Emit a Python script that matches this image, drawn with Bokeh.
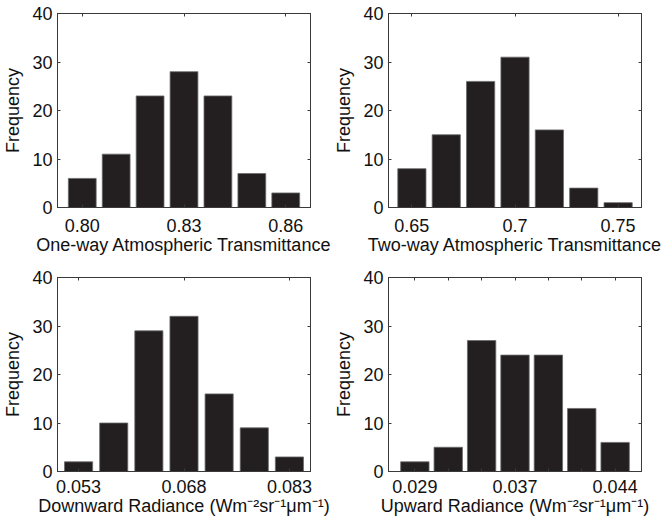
import numpy as np
from bokeh.plotting import figure
from bokeh.models import FixedTicker, LinearAxis, Range1d
from bokeh.layouts import column, row
from bokeh.embed import file_html
from bokeh.resources import INLINE

# Bin counts of the four histograms
one_way_counts = [6, 11, 23, 28, 23, 7, 3]
two_way_counts = [8, 15, 26, 31, 16, 4, 1]
down_counts = [2, 10, 29, 32, 16, 9, 3]
up_counts = [2, 5, 27, 24, 24, 13, 6]

# Labelled tick positions (bin index) and their labels
one_way_ticks = [0, 3, 6]
one_way_labels = ["0.80", "0.83", "0.86"]
two_way_ticks = [0, 3, 6]
two_way_labels = ["0.65", "0.7", "0.75"]
down_ticks = [0, 3, 6]
down_labels = ["0.053", "0.068", "0.083"]
up_ticks = [0, 3, 6]
up_labels = ["0.029", "0.037", "0.044"]
# unlabelled tick marks on the upward-radiance axis
up_extra_ticks = [1, 2, 4, 5]

freq_ticks = [0, 10, 20, 30, 40]

one_way_title = "One-way Atmospheric Transmittance"
two_way_title = "Two-way Atmospheric Transmittance"
down_title = "Downward Radiance (Wm\u207b\u00b2sr\u207b\u00b9\u03bcm\u207b\u00b9)"
up_title = "Upward Radiance (Wm\u207b\u00b2sr\u207b\u00b9\u03bcm\u207b\u00b9)"

FONT = "Liberation Sans"
FSIZE = "18px"
INK = "#111111"
FRAME = "#3a3a3a"
BAR = "#231f20"


def style_axis(ax):
    ax.major_tick_in = 3
    ax.major_tick_out = 0
    ax.minor_tick_in = 3
    ax.minor_tick_out = 0
    ax.axis_line_color = FRAME
    ax.major_tick_line_color = FRAME
    ax.minor_tick_line_color = FRAME
    ax.major_label_text_font = FONT
    ax.major_label_text_font_size = FSIZE
    ax.major_label_text_color = INK
    ax.axis_label_text_font = FONT
    ax.axis_label_text_font_size = FSIZE
    ax.axis_label_text_font_style = "normal"
    ax.axis_label_text_color = INK


def tick_only_axis(ticks):
    # axis that draws only inward tick marks, no labels
    ax = LinearAxis(ticker=FixedTicker(ticks=[], minor_ticks=ticks))
    style_axis(ax)
    ax.major_label_standoff = 0
    return ax


def hist_panel(counts, ticks, labels, extra_ticks, xlabel, pad, bar_w,
               top_border, right_border, label_gap):
    n = len(counts)
    x = np.arange(n)
    p = figure(
        frame_width=253, frame_height=194,
        x_range=Range1d(-pad, n - 1 + pad), y_range=Range1d(0, 40),
        output_backend="svg", toolbar_location=None,
        min_border_left=56, min_border_right=right_border,
        min_border_top=top_border, min_border_bottom=56,
    )
    p.vbar(x=x, top=counts, width=bar_w, bottom=0,
           fill_color=BAR, line_color="#6a6a6a", line_width=0.8)

    p.xgrid.visible = False
    p.ygrid.visible = False
    p.outline_line_color = FRAME
    p.background_fill_color = "white"
    p.border_fill_color = "white"

    xa = p.xaxis[0]
    xa.ticker = FixedTicker(ticks=ticks, minor_ticks=extra_ticks)
    xa.major_label_overrides = {t: l for t, l in zip(ticks, labels)}
    xa.axis_label = xlabel
    style_axis(xa)
    xa.major_label_standoff = label_gap
    xa.axis_label_standoff = 0

    ya = p.yaxis[0]
    ya.ticker = FixedTicker(ticks=freq_ticks)
    ya.axis_label = "Frequency"
    style_axis(ya)
    ya.major_label_standoff = 5
    ya.axis_label_standoff = 6

    p.add_layout(tick_only_axis(sorted(ticks + extra_ticks)), "above")
    p.add_layout(tick_only_axis(freq_ticks), "right")
    return p


p1 = hist_panel(one_way_counts, one_way_ticks, one_way_labels, [], one_way_title,
                0.73, 0.82, 13, 21, 11)
p2 = hist_panel(two_way_counts, two_way_ticks, two_way_labels, [], two_way_title,
                0.68, 0.82, 13, 26, 11)
p3 = hist_panel(down_counts, down_ticks, down_labels, [], down_title,
                0.60, 0.80, 14, 21, 8)
p4 = hist_panel(up_counts, up_ticks, up_labels, up_extra_ticks, up_title,
                0.79, 0.85, 14, 26, 8)

layout = column(row(p1, p2), row(p3, p4))

open("out.html", "w").write(file_html(layout, INLINE))
